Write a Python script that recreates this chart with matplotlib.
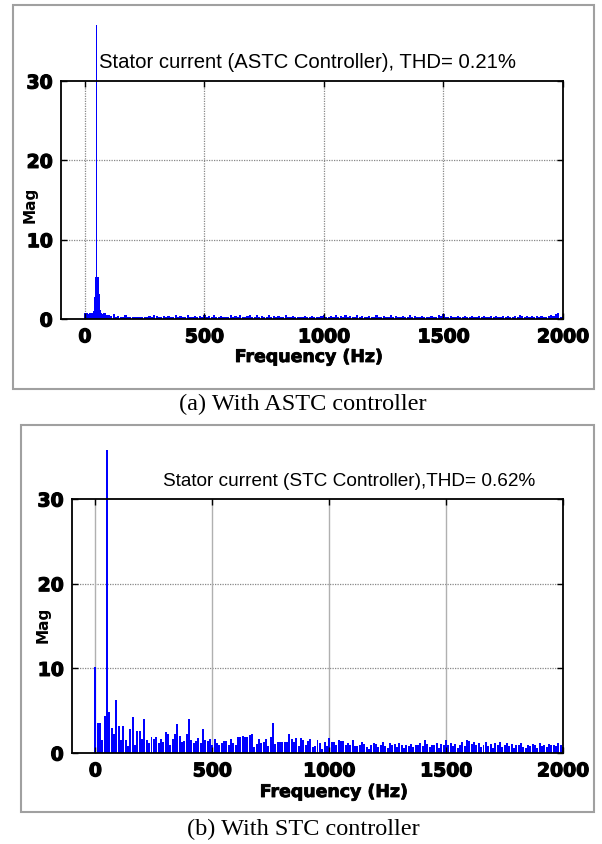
import numpy as np
import matplotlib
matplotlib.use("Agg")
import matplotlib.pyplot as plt
from matplotlib.patches import Rectangle
import matplotlib.patheffects as pe

# ---------------- data ----------------
# (a) ASTC controller: low-frequency bins (5 Hz) and noise floor (10 Hz)
astc_low_freq = [0, 5, 10, 15, 20, 25, 30, 35, 40, 45, 50, 55, 60, 65, 70, 75, 80, 85, 90, 95]
astc_low_mag = [0.7, 0.8, 0.8, 0.6, 0.7, 0.8, 0.8, 1.0, 2.8, 5.3, 37.0, 5.3, 3.2, 1.1,
                0.8, 0.6, 0.7, 0.7, 0.5, 0.5]
astc_high_start = 100
astc_high_mag = [
    0.5, 0.4, 0.6, 0.3, 0.4, 0.3, 0.3, 0.5, 0.3, 0.3,   # 100-190
    0.3, 0.2, 0.3, 0.3, 0.2, 0.3, 0.3, 0.4, 0.3, 0.5,   # 200-290
    0.4, 0.3, 0.3, 0.4, 0.3, 0.4, 0.3, 0.3, 0.5, 0.3,   # 300-390
    0.4, 0.3, 0.3, 0.5, 0.3, 0.3, 0.4, 0.3, 0.4, 0.3,   # 400-490
    0.5, 0.3, 0.4, 0.3, 0.5, 0.3, 0.3, 0.4, 0.3, 0.3,   # 500-590
    0.3, 0.5, 0.3, 0.4, 0.3, 0.5, 0.3, 0.3, 0.4, 0.5,   # 600-690
    0.3, 0.3, 0.5, 0.3, 0.4, 0.3, 0.3, 0.5, 0.3, 0.4,   # 700-790
    0.3, 0.4, 0.3, 0.3, 0.5, 0.3, 0.3, 0.4, 0.3, 0.3,   # 800-890
    0.3, 0.3, 0.4, 0.3, 0.3, 0.4, 0.3, 0.3, 0.3, 0.4,   # 900-990
    0.5, 0.3, 0.3, 0.4, 0.3, 0.5, 0.3, 0.4, 0.3, 0.5,   # 1000-1090
    0.3, 0.4, 0.3, 0.3, 0.5, 0.3, 0.4, 0.3, 0.3, 0.4,   # 1100-1190
    0.3, 0.3, 0.5, 0.3, 0.3, 0.4, 0.3, 0.3, 0.5, 0.3,   # 1200-1290
    0.4, 0.3, 0.3, 0.4, 0.3, 0.3, 0.5, 0.3, 0.4, 0.3,   # 1300-1390
    0.3, 0.4, 0.3, 0.3, 0.3, 0.4, 0.3, 0.3, 0.5, 0.4,   # 1400-1490
    0.6, 0.3, 0.3, 0.4, 0.3, 0.3, 0.4, 0.3, 0.3, 0.4,   # 1500-1590
    0.3, 0.3, 0.4, 0.3, 0.3, 0.4, 0.3, 0.4, 0.3, 0.3,   # 1600-1690
    0.4, 0.3, 0.4, 0.3, 0.3, 0.4, 0.3, 0.4, 0.3, 0.3,   # 1700-1790
    0.4, 0.3, 0.5, 0.4, 0.3, 0.4, 0.3, 0.4, 0.3, 0.4,   # 1800-1890
    0.3, 0.4, 0.3, 0.3, 0.4, 0.5, 0.4, 0.6, 0.7, 0.3,   # 1900-1990
    0.4,                                                # 2000
]

# (b) STC controller: 10 Hz bins from 0 Hz
stc_step = 10
stc_mag = [
    10.2, 3.6, 3.6, 1.5, 4.4, 35.8, 4.8, 3.0, 2.3, 6.3,   # 0-90
    3.2, 1.5, 3.2, 1.5, 0.8, 2.8, 4.2, 1.0, 2.6, 2.6,     # 100-190
    1.6, 4.0, 1.5, 1.2, 1.9, 1.6, 1.9, 1.2, 1.6, 1.3,     # 200-290
    2.5, 2.2, 1.0, 1.7, 2.2, 3.4, 2.0, 1.3, 1.4, 2.2,     # 300-390
    4.0, 1.5, 1.2, 1.4, 1.8, 1.2, 2.8, 1.5, 1.4, 1.6,     # 400-490
    1.0, 1.7, 1.2, 1.0, 1.2, 1.4, 1.4, 1.0, 1.6, 1.2,     # 500-590
    1.0, 1.9, 1.9, 2.0, 1.9, 1.9, 2.1, 2.3, 0.7, 1.1,     # 600-690
    1.6, 1.2, 1.3, 1.6, 0.8, 1.9, 3.6, 1.1, 1.3, 1.3,     # 700-790
    1.3, 1.3, 1.3, 2.2, 1.6, 1.3, 1.8, 0.8, 1.8, 1.5,     # 800-890
    1.0, 1.4, 1.7, 0.7, 0.8, 1.5, 1.2, 0.5, 1.3, 0.8,     # 900-990
    1.8, 1.3, 1.3, 1.0, 1.5, 1.4, 1.4, 0.9, 1.2, 1.0,     # 1000-1090
    1.5, 0.8, 0.8, 0.9, 1.3, 1.1, 0.7, 0.5, 1.0, 1.2,     # 1100-1190
    1.1, 0.7, 1.0, 1.3, 0.8, 0.6, 1.2, 0.9, 1.1, 0.7,     # 1200-1290
    1.2, 0.9, 0.6, 1.0, 0.8, 1.1, 0.7, 1.0, 0.9, 1.2,     # 1300-1390
    0.8, 1.5, 1.1, 0.7, 1.0, 0.9, 1.2, 0.6, 1.1, 0.9,     # 1400-1490
    1.5, 1.0, 1.2, 0.8, 1.1, 0.6, 0.9, 1.3, 0.8, 1.5,     # 1500-1590
    1.4, 1.1, 1.3, 0.9, 1.2, 0.7, 1.0, 1.3, 0.8, 1.1,     # 1600-1690
    0.6, 1.2, 0.9, 1.3, 0.7, 1.0, 1.2, 0.8, 1.1, 0.6,     # 1700-1790
    1.0, 0.9, 1.2, 0.7, 0.6, 1.0, 0.8, 1.1, 0.9, 0.6,     # 1800-1890
    1.2, 0.8, 1.0, 0.7, 1.1, 0.9, 1.0, 0.8, 1.2, 0.9,     # 1900-1990
    0.7,                                                  # 2000
]

x_ticks = [0, 500, 1000, 1500, 2000]
y_ticks = [0, 10, 20, 30]
title_a = "Stator current (ASTC Controller), THD= 0.21%"
title_b = "Stator current (STC Controller),THD= 0.62%"
caption_a = "(a) With ASTC controller"
caption_b = "(b) With STC controller"
x_label = "Frequency (Hz)"
y_label = "Mag"

# ---------------- figure ----------------
W, H = 602, 844
fig = plt.figure(figsize=(W / 100, H / 100), dpi=100)
fig.patch.set_facecolor("white")


def px_rect(x0, y0, x1, y1):
    return [x0 / W, 1 - y1 / H, (x1 - x0) / W, (y1 - y0) / H]


# outer gray frames
for (x0, y0, x1, y1) in [(13, 5, 594, 389), (21, 425, 594, 812)]:
    fig.add_artist(Rectangle((x0 / W, 1 - y1 / H), (x1 - x0) / W, (y1 - y0) / H,
                             transform=fig.transFigure, fill=False,
                             edgecolor="#a0a0a0", linewidth=1.5))

blue = "#0000ff"
heavy = [pe.withStroke(linewidth=0.9, foreground="black")]
tick_font = dict(family="DejaVu Sans", weight="bold", size=13.5)


def style_axes(ax, vgrid_style):
    ax.set_xlim(-100, 2000)
    ax.set_ylim(0, 30)
    ax.set_xticks(x_ticks)
    ax.set_yticks(y_ticks)
    ax.set_xticklabels([str(t) for t in x_ticks], fontdict=tick_font)
    ax.set_yticklabels([str(t) for t in y_ticks], fontdict=tick_font)
    for lab in ax.get_xticklabels() + ax.get_yticklabels():
        lab.set_path_effects(heavy)
    ax.tick_params(direction="in", length=4, width=1, top=True, right=True,
                   pad=6, colors="black")
    for s in ax.spines.values():
        s.set_linewidth(1.3)
        s.set_color("black")
    for t in y_ticks[1:3]:
        ax.axhline(t, color="#888888", linestyle=(0, (1, 1)), linewidth=0.9, zorder=0)
    for t in x_ticks[:4]:
        ax.axvline(t, **vgrid_style, zorder=0)


# ---- panel (a) ----
ax1 = fig.add_axes(px_rect(61, 81, 563, 319))
ax1.bar(astc_low_freq, astc_low_mag, width=5.2, color=blue, linewidth=0, clip_on=False)
hi_freq = astc_high_start + 10 * np.arange(len(astc_high_mag))
ax1.bar(hi_freq, astc_high_mag, width=9, color=blue, linewidth=0)
style_axes(ax1, dict(color="#888888", linestyle=(0, (1, 1)), linewidth=0.9))
ax1.text(99 / W, 1 - 62 / H, title_a, transform=fig.transFigure,
         family="Liberation Sans", size=14.6, va="center", ha="left")
ax1.set_xlabel(x_label, fontdict=dict(family="DejaVu Sans", weight="bold", size=12.5))
ax1.xaxis.set_label_coords((309 - 61) / (563 - 61), -(357 - 319) / (319 - 81))
ax1.xaxis.label.set_va("center")
ax1.xaxis.label.set_path_effects([pe.withStroke(linewidth=0.6, foreground="black")])
ax1.set_ylabel(y_label, fontdict=dict(family="DejaVu Sans", weight="bold", size=11))
ax1.yaxis.set_label_coords(-(61 - 30) / (563 - 61), (319 - 205) / (319 - 81))
ax1.yaxis.label.set_va("center")

fig.text(303 / W, 1 - 404 / H, caption_a, family="Liberation Serif", size=17.5,
         ha="center", va="center")

# ---- panel (b) ----
ax2 = fig.add_axes(px_rect(72, 499, 563, 753))
stc_freq = stc_step * np.arange(len(stc_mag))
ax2.bar(stc_freq, stc_mag, width=8.5, color=blue, linewidth=0, clip_on=False)
style_axes(ax2, dict(color="#b0b0b0", linestyle="-", linewidth=1.0))
ax2.text(163 / W, 1 - 482 / H, title_b, transform=fig.transFigure,
         family="Liberation Sans", size=13.7, va="center", ha="left")
ax2.set_xlabel(x_label, fontdict=dict(family="DejaVu Sans", weight="bold", size=12.5))
ax2.xaxis.set_label_coords((334 - 72) / (563 - 72), -(792 - 753) / (753 - 499))
ax2.xaxis.label.set_va("center")
ax2.xaxis.label.set_path_effects([pe.withStroke(linewidth=0.6, foreground="black")])
ax2.set_ylabel(y_label, fontdict=dict(family="DejaVu Sans", weight="bold", size=11))
ax2.yaxis.set_label_coords(-(72 - 43) / (563 - 72), (753 - 625) / (753 - 499))
ax2.yaxis.label.set_va("center")

fig.text(303 / W, 1 - 829 / H, caption_b, family="Liberation Serif", size=17.5,
         ha="center", va="center")

fig.savefig("out.png", dpi=100)
